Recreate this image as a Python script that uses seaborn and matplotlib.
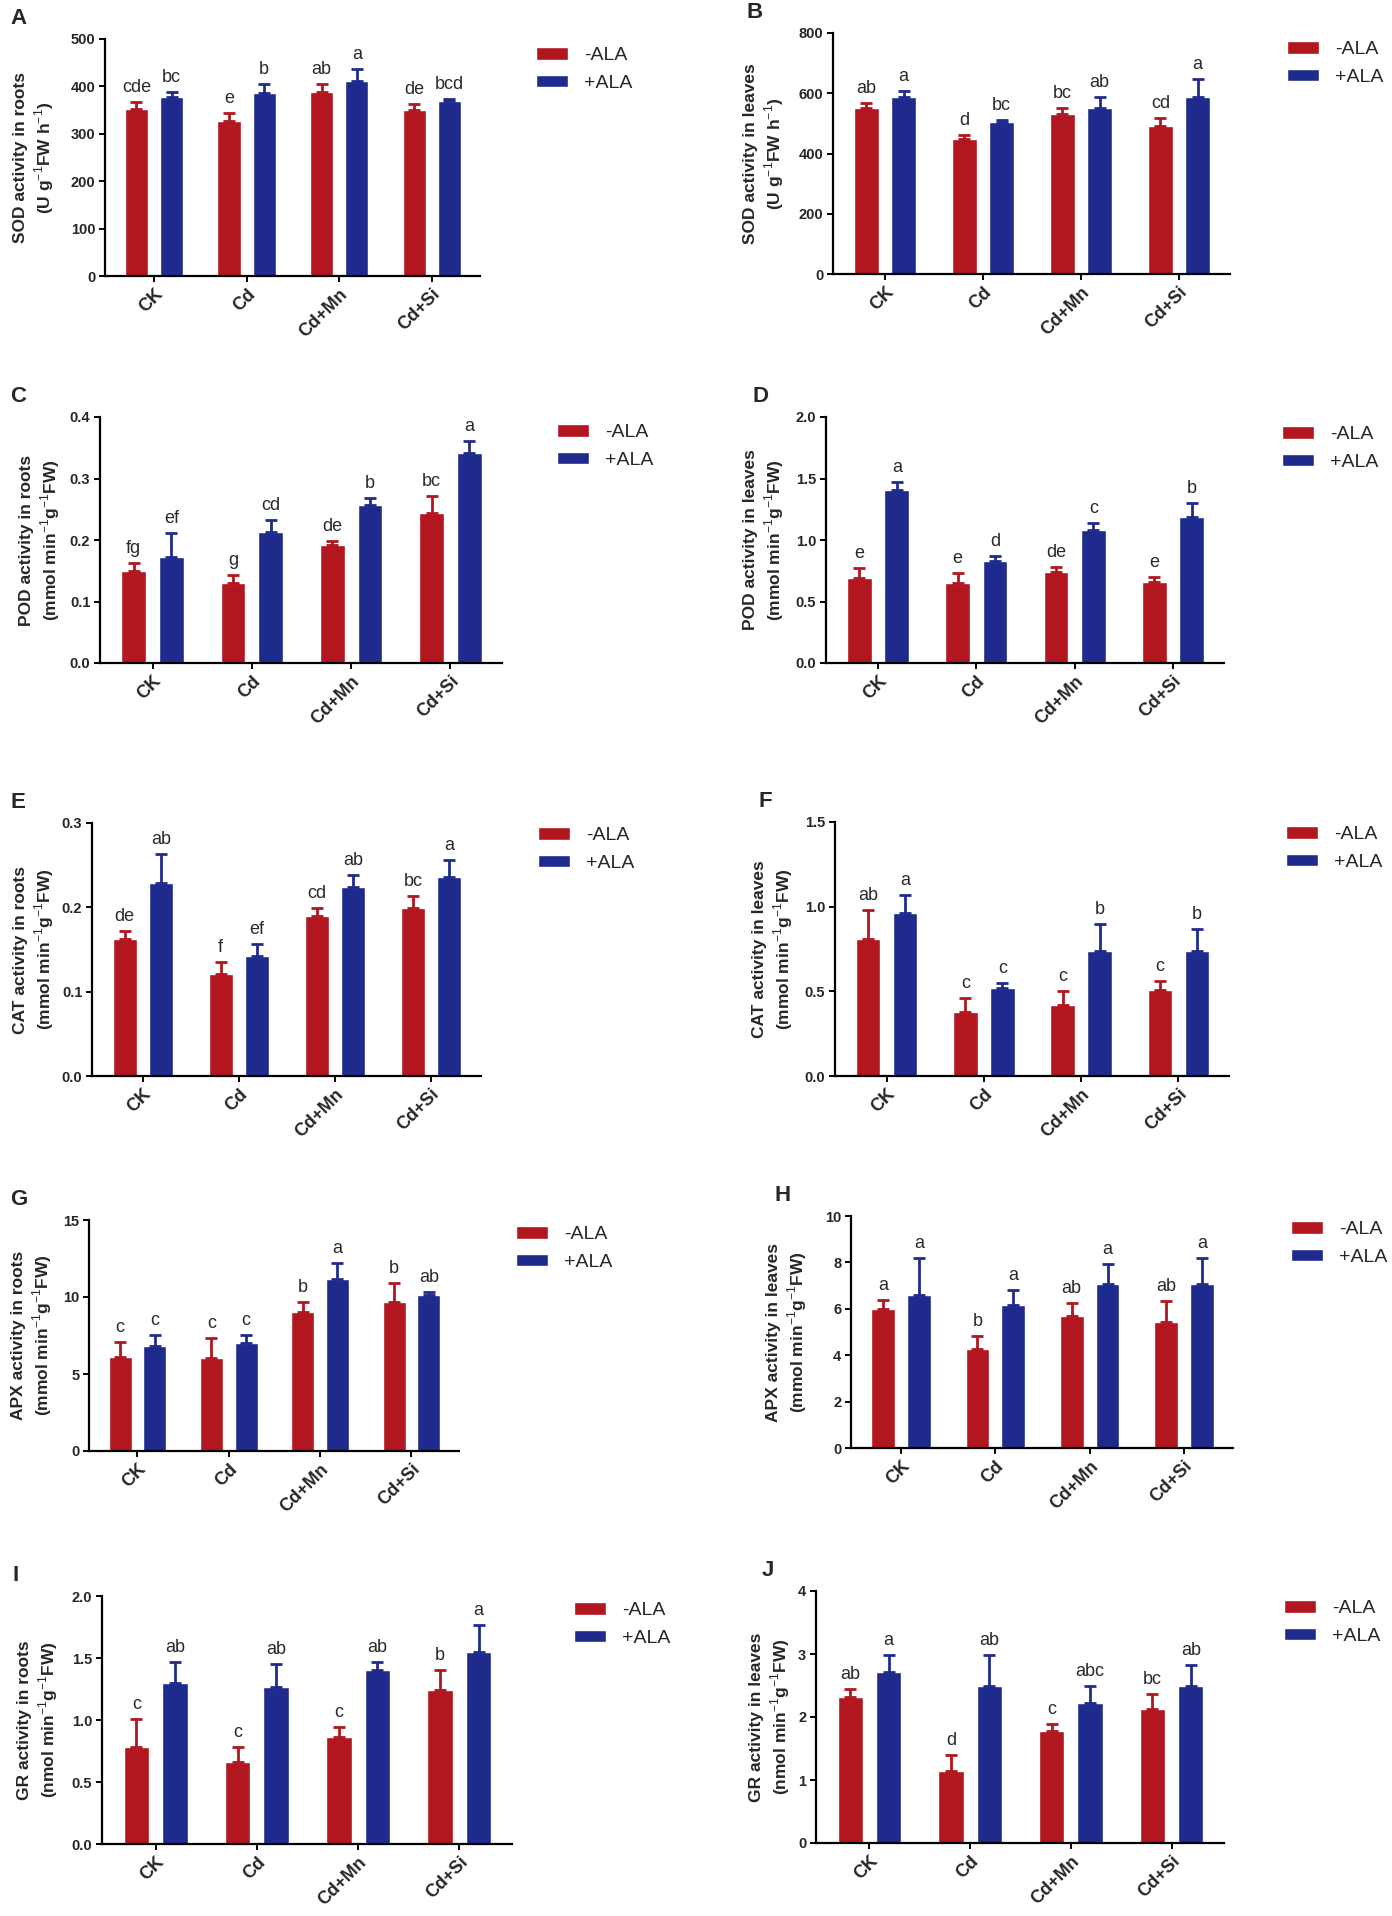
import matplotlib
matplotlib.use('Agg')
import matplotlib.pyplot as plt
import seaborn as sns
import pandas as pd
from matplotlib.patches import Patch

groups = ['CK', 'Cd', 'Cd+Mn', 'Cd+Si']
treatments = ['-ALA', '+ALA']
colors = ['#B2161E', '#1F2B8C']

# A - SOD roots
sod_roots_minus = [352, 327, 389, 350]
sod_roots_plus = [378, 386, 412, 369]
sod_roots_minus_err = [16, 17, 17, 12]
sod_roots_plus_err = [11, 20, 25, 5]
sod_roots_minus_let = ['cde', 'e', 'ab', 'de']
sod_roots_plus_let = ['bc', 'b', 'a', 'bcd']

# B - SOD leaves
sod_leaves_minus = [551, 448, 532, 490]
sod_leaves_plus = [589, 506, 551, 589]
sod_leaves_minus_err = [16, 14, 19, 27]
sod_leaves_plus_err = [19, 4, 38, 58]
sod_leaves_minus_let = ['ab', 'd', 'bc', 'cd']
sod_leaves_plus_let = ['a', 'bc', 'ab', 'a']

# C - POD roots
pod_roots_minus = [0.149, 0.130, 0.192, 0.244]
pod_roots_plus = [0.173, 0.213, 0.257, 0.341]
pod_roots_minus_err = [0.013, 0.013, 0.007, 0.027]
pod_roots_plus_err = [0.038, 0.020, 0.012, 0.020]
pod_roots_minus_let = ['fg', 'g', 'de', 'bc']
pod_roots_plus_let = ['ef', 'cd', 'b', 'a']

# D - POD leaves
pod_leaves_minus = [0.69, 0.65, 0.74, 0.66]
pod_leaves_plus = [1.41, 0.83, 1.08, 1.19]
pod_leaves_minus_err = [0.08, 0.08, 0.04, 0.04]
pod_leaves_plus_err = [0.06, 0.04, 0.06, 0.11]
pod_leaves_minus_let = ['e', 'e', 'de', 'e']
pod_leaves_plus_let = ['a', 'd', 'c', 'b']

# E - CAT roots
cat_roots_minus = [0.162, 0.121, 0.190, 0.199]
cat_roots_plus = [0.229, 0.142, 0.224, 0.236]
cat_roots_minus_err = [0.010, 0.014, 0.009, 0.014]
cat_roots_plus_err = [0.034, 0.015, 0.014, 0.020]
cat_roots_minus_let = ['de', 'f', 'cd', 'bc']
cat_roots_plus_let = ['ab', 'ef', 'ab', 'a']

# F - CAT leaves
cat_leaves_minus = [0.81, 0.38, 0.42, 0.51]
cat_leaves_plus = [0.96, 0.52, 0.74, 0.74]
cat_leaves_minus_err = [0.17, 0.08, 0.08, 0.05]
cat_leaves_plus_err = [0.11, 0.03, 0.16, 0.13]
cat_leaves_minus_let = ['ab', 'c', 'c', 'c']
cat_leaves_plus_let = ['a', 'c', 'b', 'b']

# G - APX roots
apx_roots_minus = [6.1, 6.05, 9.0, 9.7]
apx_roots_plus = [6.8, 7.0, 11.2, 10.15]
apx_roots_minus_err = [1.0, 1.3, 0.7, 1.2]
apx_roots_plus_err = [0.75, 0.55, 1.0, 0.2]
apx_roots_minus_let = ['c', 'c', 'b', 'b']
apx_roots_plus_let = ['c', 'c', 'a', 'ab']

# H - APX leaves
apx_leaves_minus = [6.0, 4.25, 5.7, 5.45]
apx_leaves_plus = [6.6, 6.15, 7.05, 7.05]
apx_leaves_minus_err = [0.38, 0.58, 0.54, 0.89]
apx_leaves_plus_err = [1.58, 0.68, 0.86, 1.15]
apx_leaves_minus_let = ['a', 'b', 'ab', 'ab']
apx_leaves_plus_let = ['a', 'a', 'a', 'a']

# I - GR roots
gr_roots_minus = [0.78, 0.66, 0.86, 1.24]
gr_roots_plus = [1.30, 1.27, 1.40, 1.55]
gr_roots_minus_err = [0.23, 0.12, 0.085, 0.165]
gr_roots_plus_err = [0.17, 0.18, 0.07, 0.215]
gr_roots_minus_let = ['c', 'c', 'c', 'b']
gr_roots_plus_let = ['ab', 'ab', 'ab', 'a']

# J - GR leaves
gr_leaves_minus = [2.32, 1.14, 1.77, 2.13]
gr_leaves_plus = [2.71, 2.49, 2.22, 2.50]
gr_leaves_minus_err = [0.13, 0.25, 0.12, 0.23]
gr_leaves_plus_err = [0.27, 0.49, 0.265, 0.33]
gr_leaves_minus_let = ['ab', 'd', 'c', 'bc']
gr_leaves_plus_let = ['a', 'ab', 'abc', 'ab']

unit_sod = '(U g$^{-1}$FW h$^{-1}$)'
unit_mmol = '(mmol min$^{-1}$g$^{-1}$FW)'
unit_nmol = '(nmol min$^{-1}$g$^{-1}$FW)'

panels = [
    ('A', 'SOD activity in roots\n' + unit_sod, [0, 100, 200, 300, 400, 500], '{:.0f}',
     sod_roots_minus, sod_roots_plus, sod_roots_minus_err, sod_roots_plus_err,
     sod_roots_minus_let, sod_roots_plus_let),
    ('B', 'SOD activity in leaves\n' + unit_sod, [0, 200, 400, 600, 800], '{:.0f}',
     sod_leaves_minus, sod_leaves_plus, sod_leaves_minus_err, sod_leaves_plus_err,
     sod_leaves_minus_let, sod_leaves_plus_let),
    ('C', 'POD activity in roots\n' + unit_mmol, [0, 0.1, 0.2, 0.3, 0.4], '{:.1f}',
     pod_roots_minus, pod_roots_plus, pod_roots_minus_err, pod_roots_plus_err,
     pod_roots_minus_let, pod_roots_plus_let),
    ('D', 'POD activity in leaves\n' + unit_mmol, [0, 0.5, 1.0, 1.5, 2.0], '{:.1f}',
     pod_leaves_minus, pod_leaves_plus, pod_leaves_minus_err, pod_leaves_plus_err,
     pod_leaves_minus_let, pod_leaves_plus_let),
    ('E', 'CAT activity in roots\n' + unit_mmol, [0, 0.1, 0.2, 0.3], '{:.1f}',
     cat_roots_minus, cat_roots_plus, cat_roots_minus_err, cat_roots_plus_err,
     cat_roots_minus_let, cat_roots_plus_let),
    ('F', 'CAT activity in leaves\n' + unit_mmol, [0, 0.5, 1.0, 1.5], '{:.1f}',
     cat_leaves_minus, cat_leaves_plus, cat_leaves_minus_err, cat_leaves_plus_err,
     cat_leaves_minus_let, cat_leaves_plus_let),
    ('G', 'APX activity in roots\n' + unit_mmol, [0, 5, 10, 15], '{:.0f}',
     apx_roots_minus, apx_roots_plus, apx_roots_minus_err, apx_roots_plus_err,
     apx_roots_minus_let, apx_roots_plus_let),
    ('H', 'APX activity in leaves\n' + unit_mmol, [0, 2, 4, 6, 8, 10], '{:.0f}',
     apx_leaves_minus, apx_leaves_plus, apx_leaves_minus_err, apx_leaves_plus_err,
     apx_leaves_minus_let, apx_leaves_plus_let),
    ('I', 'GR activity in roots\n' + unit_nmol, [0, 0.5, 1.0, 1.5, 2.0], '{:.1f}',
     gr_roots_minus, gr_roots_plus, gr_roots_minus_err, gr_roots_plus_err,
     gr_roots_minus_let, gr_roots_plus_let),
    ('J', 'GR activity in leaves\n' + unit_nmol, [0, 1, 2, 3, 4], '{:.0f}',
     gr_leaves_minus, gr_leaves_plus, gr_leaves_minus_err, gr_leaves_plus_err,
     gr_leaves_minus_let, gr_leaves_plus_let),
]

# layout in pixels: (axes left, axes right, axes top, axes bottom,
#                    ylabel right edge, legend patch left, legend first-row centre, letter x)
layout = [
    (105, 480, 39, 276, 56, 536, 58, 10),
    (833, 1230, 33, 274, 786, 1287, 52, 747),
    (100, 502, 417, 663, 62, 557, 435, 10),
    (826, 1224, 417, 663, 786, 1282, 437, 753),
    (92, 481, 823, 1076, 56, 538, 838, 10),
    (835, 1229, 822, 1076, 795, 1286, 837, 759),
    (89, 459, 1220, 1451, 54, 516, 1237, 10),
    (851, 1233, 1216, 1448, 809, 1291, 1232, 775),
    (102, 512, 1596, 1844, 60, 574, 1613, 12),
    (816, 1224, 1591, 1843, 792, 1284, 1611, 762),
]

sns.set_style('ticks')
plt.rcParams['font.family'] = ['Liberation Sans', 'DejaVu Sans']
plt.rcParams['mathtext.fontset'] = 'custom'
plt.rcParams['mathtext.rm'] = 'Liberation Sans'
plt.rcParams['mathtext.bf'] = 'Liberation Sans:bold'

W, H = 1392, 1916
fig = plt.figure(figsize=(W / 100, H / 100), dpi=100)

for k, (letter, ylabel, yticks, fmt, m, p, me, pe, ml, pl) in enumerate(panels):
    left, right, top, bottom, ylab_x, leg_x, leg_y, let_x = layout[k]
    ax = fig.add_axes([left / W, 1 - bottom / H, (right - left) / W, (bottom - top) / H])

    df = pd.DataFrame({
        'group': groups * 2,
        'treatment': [treatments[0]] * 4 + [treatments[1]] * 4,
        'value': list(m) + list(p),
    })
    sns.barplot(data=df, x='group', y='value', hue='treatment', order=groups,
                hue_order=treatments, palette=colors, width=0.76, gap=0.34,
                errorbar=None, saturation=1, legend=False, ax=ax)

    ymax = yticks[-1]
    pad = ymax * 6 / (bottom - top)
    for j, (vals, errs, lets) in enumerate([(m, me, ml), (p, pe, pl)]):
        xs = [i + (j - 0.5) * 0.38 for i in range(4)]
        ax.errorbar(xs, vals, yerr=[[0] * 4, errs], fmt='none', ecolor=colors[j],
                    elinewidth=2, capsize=4, capthick=2, zorder=3)
        for x, v, e, t in zip(xs, vals, errs, lets):
            ax.text(x, v + e + pad, t, ha='center', va='bottom',
                    fontsize=13, color='#2a2a2a')

    ax.set_xlim(-0.53, 3.52)
    ax.set_ylim(0, ymax)
    ax.set_yticks(yticks)
    ax.set_yticklabels([fmt.format(v) for v in yticks], fontsize=10.5, fontweight='bold')
    ax.set_xticks(range(4))
    ax.set_xticklabels(groups, rotation=45, ha='right', rotation_mode='anchor',
                       fontsize=13, fontweight='bold')
    ax.set_xlabel('')
    ax.set_ylabel(ylabel, fontsize=12.5, fontweight='bold', linespacing=1.25)
    ax.yaxis.set_label_coords(ylab_x / W, 1 - (top + bottom) / 2 / H,
                              transform=fig.transFigure)
    sns.despine(ax=ax)
    for s in ['left', 'bottom']:
        ax.spines[s].set_linewidth(1.6)
        ax.spines[s].set_color('black')
    ax.tick_params(axis='both', length=4, width=1.4, color='black', pad=3)

    handles = [Patch(facecolor=colors[0], label=treatments[0]),
               Patch(facecolor=colors[1], label=treatments[1])]
    ax.legend(handles=handles, loc='upper left', frameon=False, fontsize=14,
              bbox_to_anchor=(leg_x / W, 1 - (leg_y - 11) / H),
              bbox_transform=fig.transFigure, borderaxespad=0, borderpad=0,
              handlelength=1.65, handleheight=0.62, handletextpad=0.8, labelspacing=0.55)

    fig.text(let_x / W, 1 - (top - 31) / H, letter, fontsize=16,
             fontweight='bold', va='top', ha='left')

fig.savefig('out.png', dpi=100, facecolor='white')
